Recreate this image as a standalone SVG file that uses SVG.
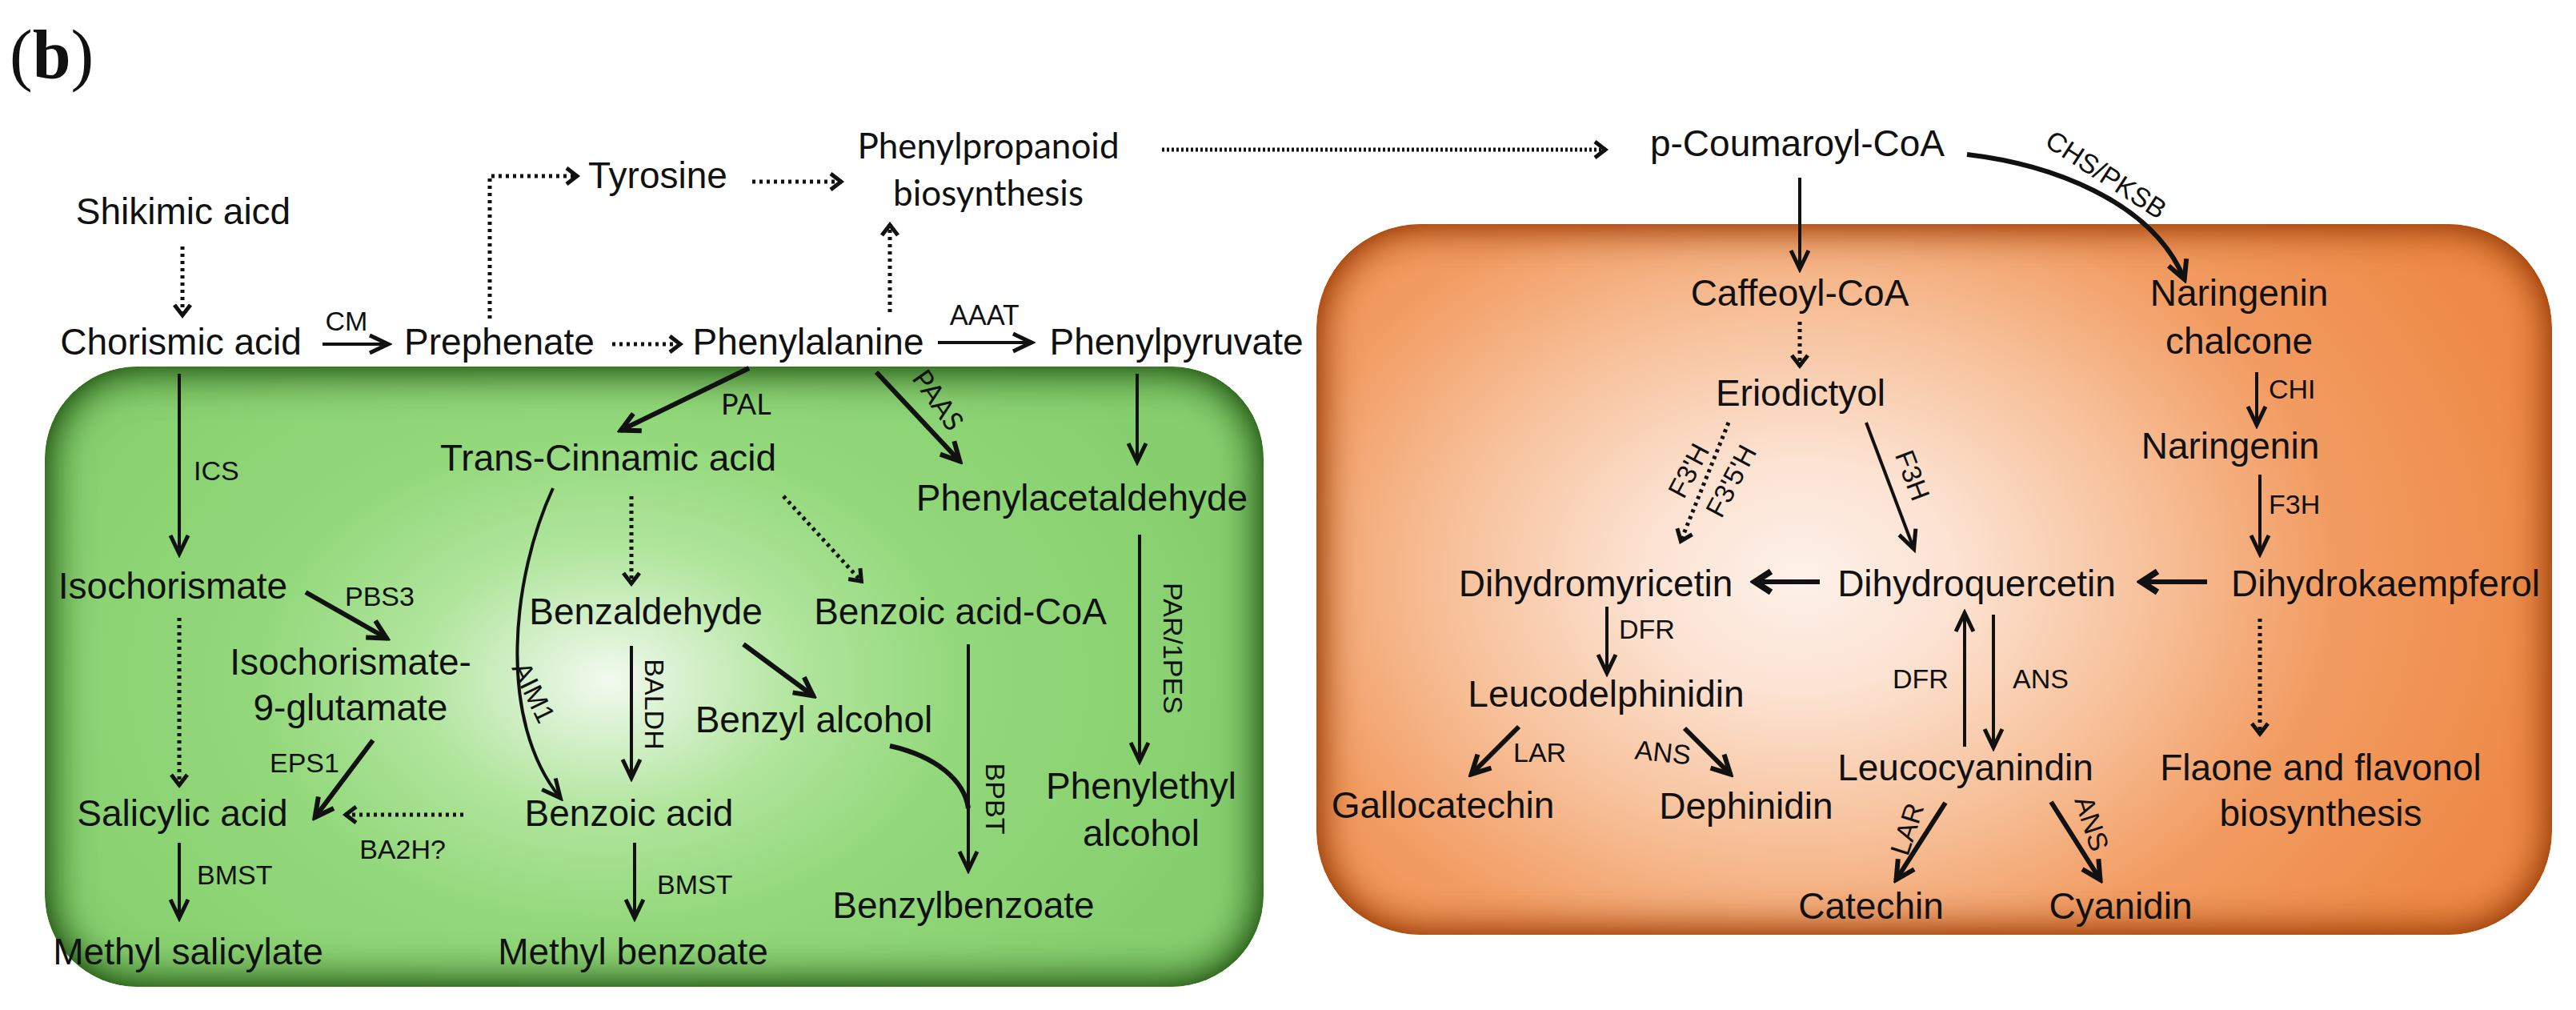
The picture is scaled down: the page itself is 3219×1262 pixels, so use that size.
<svg xmlns="http://www.w3.org/2000/svg" width="3219" height="1262" viewBox="0 0 3219 1262">
<defs>
<style>
text{font-family:"Liberation Sans",Arial,sans-serif;fill:#111;}
.m{font-size:46px;text-anchor:middle;}
.s{font-size:34px;}
.sc{font-size:34px;text-anchor:middle;}
.c{font-family:Lato,"Liberation Sans",sans-serif;}
.ln{fill:none;stroke:#111;stroke-width:4;marker-end:url(#ah);}
.tk{fill:none;stroke:#111;stroke-width:6;marker-end:url(#ahk);}
.bd{fill:none;stroke:#111;stroke-width:6;marker-end:url(#ahb);}
.dt{fill:none;stroke:#111;stroke-width:5;stroke-dasharray:4 5;marker-end:url(#ahd);}
.dd{fill:none;stroke:#111;stroke-width:5;stroke-dasharray:3 3;marker-end:url(#ahd);}
.pl{fill:none;stroke:#111;stroke-width:6;}
</style>
<marker id="ah" viewBox="-30 -16 34 32" refX="0" refY="0" markerWidth="34" markerHeight="32" markerUnits="userSpaceOnUse" orient="auto">
<path d="M-24,-11 L-1,0 L-24,11" fill="none" stroke="#111" stroke-width="5"/>
</marker>
<marker id="ahk" viewBox="-30 -16 34 32" refX="0" refY="0" markerWidth="34" markerHeight="32" markerUnits="userSpaceOnUse" orient="auto">
<path d="M-24,-12 L-1,0 L-24,12" fill="none" stroke="#111" stroke-width="6"/>
</marker>
<marker id="ahb" viewBox="-30 -18 34 36" refX="0" refY="0" markerWidth="34" markerHeight="36" markerUnits="userSpaceOnUse" orient="auto">
<path d="M-22,-13 L-2,0 L-22,13" fill="none" stroke="#111" stroke-width="8"/>
</marker>
<marker id="ahd" viewBox="-24 -14 28 28" refX="0" refY="0" markerWidth="28" markerHeight="28" markerUnits="userSpaceOnUse" orient="auto">
<path d="M-14,-10 L-1,0 L-14,10" fill="none" stroke="#111" stroke-width="5"/>
</marker>
<radialGradient id="gG" gradientUnits="userSpaceOnUse" cx="760" cy="850" r="800" gradientTransform="translate(760 850) scale(1 0.7) translate(-760 -850)">
<stop offset="0" stop-color="#f2faef"/>
<stop offset="0.1" stop-color="#dcf2d4"/>
<stop offset="0.3" stop-color="#b0e59c"/>
<stop offset="0.55" stop-color="#93d87b"/>
<stop offset="1" stop-color="#86cf6e"/>
</radialGradient>
<radialGradient id="gO" gradientUnits="userSpaceOnUse" cx="2250" cy="720" r="950" gradientTransform="translate(2250 720) scale(1 0.75) translate(-2250 -720)">
<stop offset="0" stop-color="#fdf1e9"/>
<stop offset="0.2" stop-color="#fce3d3"/>
<stop offset="0.45" stop-color="#f7c29c"/>
<stop offset="0.7" stop-color="#f29c62"/>
<stop offset="1" stop-color="#ee8a47"/>
</radialGradient>
<filter id="inG" x="-5%" y="-5%" width="110%" height="110%" color-interpolation-filters="sRGB">
<feGaussianBlur in="SourceAlpha" stdDeviation="28" result="b"/>
<feComposite in="SourceAlpha" in2="b" operator="arithmetic" k2="1.8" k3="-1.8" result="e"/>
<feFlood flood-color="#336a22"/>
<feComposite in2="e" operator="in" result="sh"/>
<feMerge><feMergeNode in="SourceGraphic"/><feMergeNode in="sh"/></feMerge>
</filter>
<filter id="inO" x="-5%" y="-5%" width="110%" height="110%" color-interpolation-filters="sRGB">
<feGaussianBlur in="SourceAlpha" stdDeviation="26" result="b"/>
<feComposite in="SourceAlpha" in2="b" operator="arithmetic" k2="1.6" k3="-1.6" result="e"/>
<feFlood flood-color="#a1430c"/>
<feComposite in2="e" operator="in" result="sh"/>
<feMerge><feMergeNode in="SourceGraphic"/><feMergeNode in="sh"/></feMerge>
</filter>
</defs>
<rect width="3219" height="1262" fill="#fff"/>

<g id="panels">
<rect id="green-box" x="56" y="458" width="1523" height="775" rx="115" fill="url(#gG)" filter="url(#inG)"/>
<rect id="orange-box" x="1645" y="280" width="1544" height="888" rx="130" fill="url(#gO)" filter="url(#inO)"/>
</g>

<text x="12" y="97" style="font-family:'Liberation Serif','Times New Roman',serif;font-size:86px;">(<tspan font-weight="bold">b</tspan>)</text>

<g id="connectors">
<line class="dt" x1="228" y1="308" x2="228" y2="395"/>
<line class="ln" x1="403" y1="430" x2="486" y2="430"/>
<line class="dt" x1="765" y1="430" x2="851" y2="430"/>
<path class="dt" d="M612,398 V220 H722"/>
<line class="dt" x1="940" y1="227" x2="1052" y2="227"/>
<line class="dt" x1="1112" y1="390" x2="1112" y2="280"/>
<line class="ln" x1="1172" y1="428" x2="1290" y2="428"/>
<line class="dd" x1="1452" y1="187" x2="2007" y2="187"/>
<line class="ln" x1="2249" y1="222" x2="2249" y2="337"/>
<path class="tk" d="M2458,193 C2560,205 2690,250 2730,350"/>
<line class="dt" x1="2249" y1="402" x2="2249" y2="458"/>
<line class="ln" x1="2820" y1="465" x2="2820" y2="532"/>
<line class="ln" x1="2824" y1="593" x2="2824" y2="693"/>
<line class="bd" x1="2758" y1="727" x2="2674" y2="727"/>
<line class="bd" x1="2274" y1="727" x2="2191" y2="727"/>
<line class="ln" x1="2332" y1="528" x2="2392" y2="687"/>
<line class="dt" x1="2160" y1="528" x2="2100" y2="677"/>
<line class="ln" x1="2008" y1="758" x2="2008" y2="842"/>
<line class="ln" x1="2455" y1="933" x2="2455" y2="765"/>
<line class="ln" x1="2491" y1="768" x2="2491" y2="935"/>
<line class="dt" x1="2824" y1="773" x2="2824" y2="918"/>
<line class="tk" x1="2105" y1="910" x2="2163" y2="968"/>
<line class="tk" x1="1898" y1="908" x2="1838" y2="968"/>
<line class="tk" x1="2431" y1="1003" x2="2369" y2="1100"/>
<line class="tk" x1="2563" y1="1002" x2="2625" y2="1100"/>
<line class="ln" x1="224" y1="467" x2="224" y2="693"/>
<line class="tk" x1="936" y1="460" x2="775" y2="538"/>
<line class="tk" x1="1095" y1="465" x2="1200" y2="577"/>
<line class="ln" x1="1421" y1="467" x2="1421" y2="578"/>
<line class="dt" x1="789" y1="620" x2="789" y2="730"/>
<line class="dt" x1="979" y1="620" x2="1077" y2="727"/>
<path class="ln" d="M691,610 C640,720 620,900 701,998"/>
<line class="tk" x1="382" y1="740" x2="484" y2="798"/>
<line class="dt" x1="224" y1="772" x2="224" y2="982"/>
<line class="ln" x1="789" y1="807" x2="789" y2="973"/>
<line class="tk" x1="929" y1="805" x2="1017" y2="870"/>
<line class="ln" x1="1210" y1="805" x2="1210" y2="1088"/>
<path class="pl" d="M1112,932 C1170,945 1205,975 1210,1010"/>
<line class="ln" x1="1424" y1="668" x2="1424" y2="952"/>
<line class="tk" x1="466" y1="925" x2="393" y2="1022"/>
<line class="dt" x1="579" y1="1018" x2="431" y2="1018"/>
<line class="ln" x1="224" y1="1053" x2="224" y2="1148"/>
<line class="ln" x1="793" y1="1053" x2="793" y2="1148"/>
</g>

<g id="labels">
<text class="sc" x="433" y="413">CM</text>
<text class="sc c" x="1230" y="406">AAAT</text>
<text class="sc" transform="translate(2632 218) rotate(33)" dy="0.35em">CHS/PKSB</text>
<text class="s" x="2835" y="498">CHI</text>
<text class="s" x="2835" y="642">F3H</text>
<text class="sc" transform="translate(2390 594) rotate(69)" dy="0.35em">F3H</text>
<text class="sc" transform="translate(2110 588) rotate(-62)" dy="0.35em">F3'H</text>
<text class="sc" transform="translate(2163 601) rotate(-62)" dy="0.35em">F3'5'H</text>
<text class="s" x="2023" y="798">DFR</text>
<text class="sc" x="2400" y="860">DFR</text>
<text class="sc" x="2550" y="860">ANS</text>
<text class="sc" transform="translate(2078 940) rotate(6)" dy="0.35em">ANS</text>
<text class="s" x="1891" y="952">LAR</text>
<text class="sc" transform="translate(2383 1036) rotate(-72)" dy="0.35em">LAR</text>
<text class="sc" transform="translate(2614 1029) rotate(72)" dy="0.35em">ANS</text>
<text class="s" x="242" y="600">ICS</text>
<text class="s c" x="901" y="518" style="font-size:36px">PAL</text>
<text class="sc c" transform="translate(1172 500) rotate(55)" dy="0.35em">PAAS</text>
<text class="s" x="431" y="757">PBS3</text>
<text class="sc" transform="translate(667 865) rotate(64)" dy="0.35em">AIM1</text>
<text class="sc" transform="translate(818 880) rotate(90)" dy="0.35em">BALDH</text>
<text class="sc" transform="translate(1466 810) rotate(90)" dy="0.35em">PAR/1PES</text>
<text class="sc" transform="translate(1244 998) rotate(90)" dy="0.35em">BPBT</text>
<text class="s" x="337" y="965">EPS1</text>
<text class="sc" x="503" y="1073">BA2H?</text>
<text class="s" x="246" y="1105">BMST</text>
<text class="s" x="821" y="1117">BMST</text>
</g>

<g id="n-shikimic"><text class="m" x="229" y="280">Shikimic aicd</text></g>
<g id="n-chorismic"><text class="m" x="226" y="443">Chorismic acid</text></g>
<g id="n-prephenate"><text class="m" x="624" y="443">Prephenate</text></g>
<g id="n-phenylalanine"><text class="m" x="1010" y="443">Phenylalanine</text></g>
<g id="n-phenylpyruvate"><text class="m" x="1470" y="443">Phenylpyruvate</text></g>
<g id="n-tyrosine"><text class="m" x="822" y="235">Tyrosine</text></g>
<g id="n-phenylpropanoid"><text class="m c" x="1235" y="198" style="font-size:44px">Phenylpropanoid</text><text class="m c" x="1235" y="257" style="font-size:44px">biosynthesis</text></g>
<g id="n-coumaroyl"><text class="m" x="2246" y="195">p-Coumaroyl-CoA</text></g>
<g id="n-caffeoyl"><text class="m" x="2249" y="382">Caffeoyl-CoA</text></g>
<g id="n-chalcone"><text class="m" x="2798" y="382">Naringenin</text><text class="m" x="2798" y="442">chalcone</text></g>
<g id="n-eriodictyol"><text class="m" x="2250" y="507">Eriodictyol</text></g>
<g id="n-naringenin"><text class="m" x="2787" y="573">Naringenin</text></g>
<g id="n-dihydrokaempferol"><text class="m" x="2981" y="745">Dihydrokaempferol</text></g>
<g id="n-dihydroquercetin"><text class="m" x="2470" y="745">Dihydroquercetin</text></g>
<g id="n-dihydromyricetin"><text class="m" x="1994" y="745">Dihydromyricetin</text></g>
<g id="n-leucodelphinidin"><text class="m" x="2007" y="883">Leucodelphinidin</text></g>
<g id="n-leucocyanidin"><text class="m" x="2456" y="975">Leucocyanindin</text></g>
<g id="n-flavone"><text class="m" x="2900" y="975">Flaone and flavonol</text><text class="m" x="2900" y="1032">biosynthesis</text></g>
<g id="n-dephinidin"><text class="m" x="2182" y="1023">Dephinidin</text></g>
<g id="n-gallocatechin"><text class="m" x="1803" y="1022">Gallocatechin</text></g>
<g id="n-catechin"><text class="m" x="2338" y="1148">Catechin</text></g>
<g id="n-cyanidin"><text class="m" x="2650" y="1148">Cyanidin</text></g>
<g id="n-cinnamic"><text class="m" x="760" y="588">Trans-Cinnamic acid</text></g>
<g id="n-isochorismate"><text class="m" x="216" y="748">Isochorismate</text></g>
<g id="n-iso9glu"><text class="m" x="438" y="843">Isochorismate-</text><text class="m" x="438" y="900">9-glutamate</text></g>
<g id="n-benzaldehyde"><text class="m" x="807" y="780">Benzaldehyde</text></g>
<g id="n-benzoicCoA"><text class="m" x="1200" y="780">Benzoic acid-CoA</text></g>
<g id="n-benzylalcohol"><text class="m" x="1017" y="915">Benzyl alcohol</text></g>
<g id="n-phenylacetaldehyde"><text class="m" x="1352" y="638">Phenylacetaldehyde</text></g>
<g id="n-salicylic"><text class="m" x="228" y="1032">Salicylic acid</text></g>
<g id="n-benzoic"><text class="m" x="786" y="1032">Benzoic acid</text></g>
<g id="n-methylsalicylate"><text class="m" x="235" y="1205">Methyl salicylate</text></g>
<g id="n-methylbenzoate"><text class="m" x="791" y="1205">Methyl benzoate</text></g>
<g id="n-phenylethyl"><text class="m" x="1426" y="998">Phenylethyl</text><text class="m" x="1426" y="1057">alcohol</text></g>
<g id="n-benzylbenzoate"><text class="m" x="1204" y="1147">Benzylbenzoate</text></g>
</svg>
